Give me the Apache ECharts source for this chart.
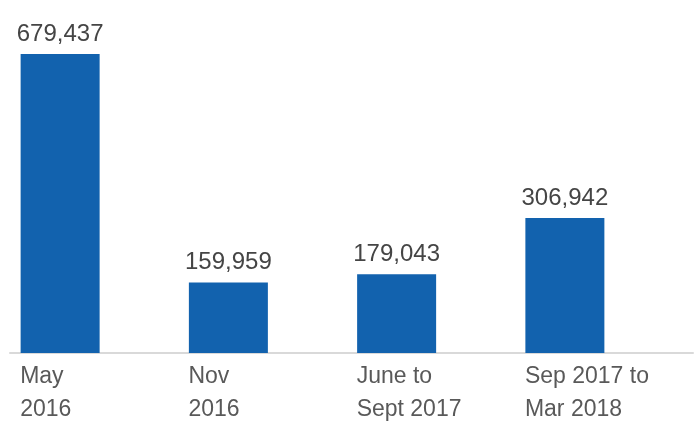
<!DOCTYPE html>
<html>
<head>
<meta charset="utf-8">
<script src="https://cdn.jsdelivr.net/npm/echarts@6/dist/echarts.min.js"></script>
<style>
  html, body { margin: 0; padding: 0; background: #fff; }
  #chart { width: 699px; height: 423px; }
</style>
</head>
<body>
<div id="chart"></div>
<script>
var categories = ['May\n2016', 'Nov\n2016', 'June to\nSept 2017', 'Sep 2017 to\nMar 2018'];
var values = [679437, 159959, 179043, 306942];

var FONT = '"Liberation Sans", Arial, sans-serif';

var chart = echarts.init(document.getElementById('chart'));

var option = {
    animation: false,
    grid: [
        { left: -24, width: 673, top: 54, bottom: 70, outerBoundsMode: 'none', containLabel: false },
        { left: 10, right: 6, top: 54, bottom: 70, outerBoundsMode: 'none', containLabel: false }   // base line only
    ],
    xAxis: [{
        type: 'category',
        gridIndex: 0,
        data: categories,
        axisLine: { show: false },
        axisTick: { show: false },
        axisLabel: {
            margin: 7,
            align: 'center',
            formatter: function (v) {
                return v.split('\n').map(function (s) { return '{a|' + s + '}'; }).join('\n');
            },
            rich: {
                a: {
                    width: 80,
                    align: 'left',
                    fontFamily: FONT,
                    fontSize: 23,
                    lineHeight: 33,
                    color: '#595959'
                }
            }
        }
    }, {
        type: 'category',
        gridIndex: 1,
        data: [''],
        axisLine: { show: true, lineStyle: { color: '#d9d9d9', width: 2 } },
        axisTick: { show: false },
        axisLabel: { show: false }
    }],
    yAxis: [{
        type: 'value',
        gridIndex: 0,
        min: 0,
        max: 679437,
        show: false
    }, {
        type: 'value',
        gridIndex: 1,
        show: false
    }],
    series: [{
        type: 'bar',
        xAxisIndex: 0,
        yAxisIndex: 0,
        data: values,
        barWidth: 79,
        itemStyle: { color: '#1262ae' },
        label: {
            show: true,
            position: 'top',
            distance: 8,
            fontFamily: FONT,
            fontSize: 24,
            color: '#454545',
            formatter: function (p) {
                return p.value.toLocaleString('en-US');
            }
        }
    }]
};

chart.setOption(option);
</script>
</body>
</html>
